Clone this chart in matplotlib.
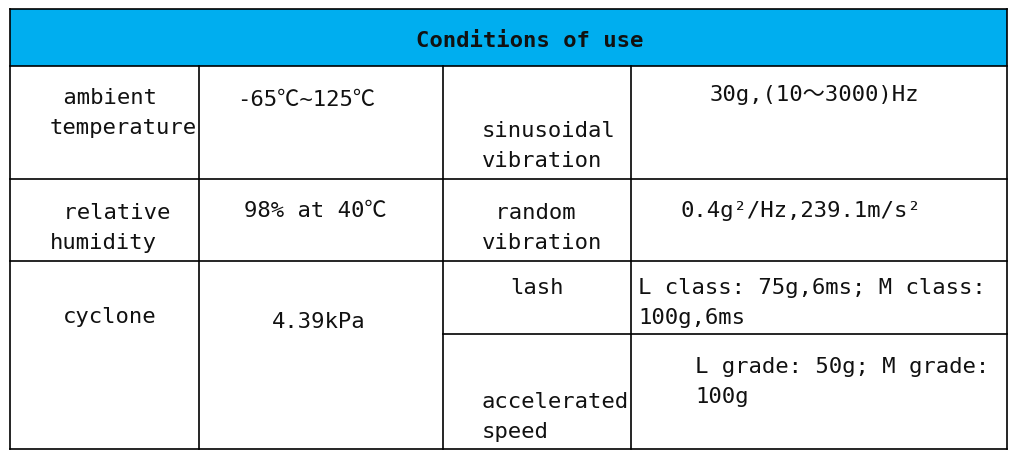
import matplotlib
matplotlib.use("Agg")
import matplotlib.pyplot as plt
from matplotlib.patches import Rectangle

title = "Conditions of use"
labels = [" ambient\ntemperature", " relative\nhumidity", "cyclone"]
values = ["-65℃~125℃", "98% at 40℃", "4.39kPa"]
labels2 = ["sinusoidal\nvibration", " random\nvibration", "lash", "accelerated\nspeed"]
values2 = ["30g,(10～3000)Hz", "0.4g²/Hz,239.1m/s²",
           "L class: 75g,6ms; M class:\n100g,6ms", "L grade: 50g; M grade:\n100g"]

fig = plt.figure(figsize=(10.15, 4.6), dpi=100)
ax = fig.add_axes([0, 0, 1, 1])
ax.set_xlim(0, 1015); ax.set_ylim(460, 0); ax.axis("off")

L, R, T, B = 10, 1007, 10, 450
ax.add_patch(Rectangle((L, T), R - L, 57, facecolor="#00AEEF", edgecolor="none"))
lw = 1.2
def hl(y, x0=L, x1=R): ax.plot([x0, x1], [y, y], color="black", lw=lw)
def vl(x, y0, y1): ax.plot([x, x], [y0, y1], color="black", lw=lw)
for y in [T, 67, 180, 262, B]: hl(y)
hl(335, 443, R)
for x in [L, R]: vl(x, T, B)
for x in [199, 443, 631]: vl(x, 67, B)

font = dict(family=["DejaVu Sans Mono", "Noto Sans CJK SC"], fontsize=16, color="#111111")
ax.text(530, 41, title, ha="center", va="center", fontweight="bold", **font)

pos_l = [(50, 113), (50, 228), (63, 317)]
pos_v = [(237, 100), (244, 211), (272, 322)]
pos_l2 = [(482, 146), (482, 228), (510, 288), (482, 417)]
pos_v2 = [(710, 95), (681, 211), (638, 303), (695, 382)]
ls = 1.6
for t, (x, y) in zip(labels, pos_l):
    ax.text(x, y, t, ha="left", va="center", linespacing=ls, **font)
for t, (x, y) in zip(values, pos_v):
    ax.text(x, y, t, ha="left", va="center", **font)
for t, (x, y) in zip(labels2, pos_l2):
    ax.text(x, y, t, ha="left", va="center", linespacing=ls, **font)
for t, (x, y) in zip(values2, pos_v2):
    ax.text(x, y, t, ha="left", va="center", linespacing=ls, **font)

fig.savefig("out.png", dpi=100)
